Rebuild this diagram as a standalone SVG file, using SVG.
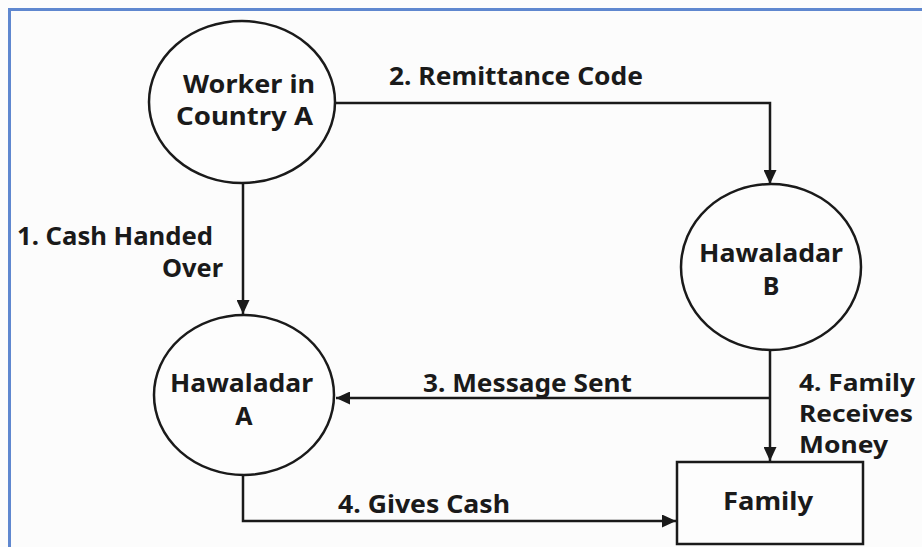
<svg xmlns="http://www.w3.org/2000/svg" width="922" height="547" viewBox="0 0 922 547">
<style>
.node{fill:#fdfdfd;stroke:#1a1a1a;stroke-width:2.5}
.conn{fill:none;stroke:#1a1a1a;stroke-width:2.5}
text{font-family:"Noto Sans","Open Sans","Liberation Sans",sans-serif;font-weight:700;font-size:25px;fill:#1a1a1a}
.c{text-anchor:middle}
.s{font-size:22.5px}
</style>
<defs>
<marker id="arr" markerUnits="userSpaceOnUse" markerWidth="15" markerHeight="13" refX="14" refY="6.5" orient="auto">
<path d="M0,0 L14,6.5 L0,13 z" fill="#1a1a1a"/>
</marker>
</defs>
<rect x="0" y="0" width="922" height="547" fill="#fcfcfc"/>
<path d="M9.5 547 V9.5 H922" fill="none" stroke="#5f87cf" stroke-width="3"/>
<g id="connectors">
<path class="conn" d="M243 183 V314" marker-end="url(#arr)"/>
<path class="conn" d="M335 103 H770 V184" marker-end="url(#arr)"/>
<path class="conn" d="M770 350 V461" marker-end="url(#arr)"/>
<path class="conn" d="M770 398 H336" marker-end="url(#arr)"/>
<path class="conn" d="M243 475 V521 H676" marker-end="url(#arr)"/>
<text x="389" y="85" textLength="254" lengthAdjust="spacingAndGlyphs">2. Remittance Code</text>
<text x="17" y="245" textLength="196" lengthAdjust="spacingAndGlyphs">1. Cash Handed</text>
<text x="162" y="277" textLength="61" lengthAdjust="spacingAndGlyphs">Over</text>
<text x="423" y="392" textLength="209" lengthAdjust="spacingAndGlyphs">3. Message Sent</text>
<text x="338" y="513" textLength="172" lengthAdjust="spacingAndGlyphs">4. Gives Cash</text>
<text class="s" x="799" y="391" textLength="116" lengthAdjust="spacingAndGlyphs">4. Family</text>
<text class="s" x="799" y="422" textLength="114" lengthAdjust="spacingAndGlyphs">Receives</text>
<text class="s" x="799" y="453" textLength="89" lengthAdjust="spacingAndGlyphs">Money</text>
</g>
<g id="worker">
<ellipse class="node" cx="242" cy="102" rx="93" ry="81"/>
<text x="183" y="93" textLength="132" lengthAdjust="spacingAndGlyphs">Worker in</text>
<text x="176" y="125" textLength="137" lengthAdjust="spacingAndGlyphs">Country A</text>
</g>
<g id="hawaladarA">
<ellipse class="node" cx="244" cy="395" rx="90" ry="80"/>
<text x="170" y="392" textLength="143" lengthAdjust="spacingAndGlyphs">Hawaladar</text>
<text class="c" x="244" y="425">A</text>
</g>
<g id="hawaladarB">
<ellipse class="node" cx="771" cy="267" rx="90" ry="83"/>
<text x="699" y="262" textLength="144" lengthAdjust="spacingAndGlyphs">Hawaladar</text>
<text class="c" x="771" y="295">B</text>
</g>
<g id="family">
<rect class="node" x="677" y="462" width="186" height="82"/>
<text x="723" y="510" textLength="90" lengthAdjust="spacingAndGlyphs">Family</text>
</g>
</svg>
